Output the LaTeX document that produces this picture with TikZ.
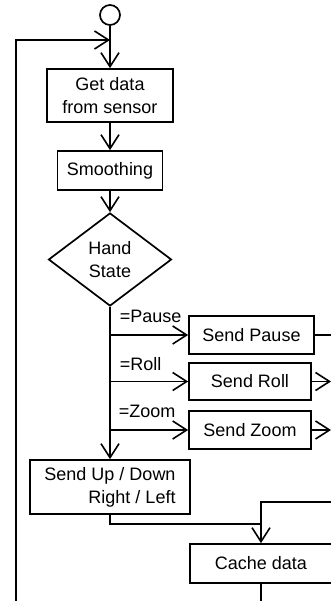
\documentclass[tikz,border=0pt]{standalone}
\usepackage{fontspec}
\setmainfont{Liberation Sans}
\usetikzlibrary{arrows.meta,shapes.geometric}
\begin{document}
\begin{tikzpicture}[x=1pt,y=-1pt,line width=1.7pt,
  txt/.style={font=\fontsize{18}{23}\selectfont},
  box/.style={draw,rectangle,inner sep=0pt,txt,align=center},
  flow/.style={-{Straight Barb[length=14pt,width=18pt,line width=1.6pt]}},
  lbl/.style={txt,anchor=west,inner sep=0pt}]
\useasboundingbox (0,0) rectangle (331,601);
\clip (0,0) rectangle (331,601);

% process steps
\node[circle,draw,minimum size=20pt,inner sep=0pt] (start) at (110,15) {};
\node[box,minimum width=126pt,minimum height=53pt] (get) at (110,95.5) {Get data\\from sensor};
\node[box,minimum width=105pt,minimum height=39pt] (smooth) at (110,170.5) {Smoothing};
\node[diamond,draw,inner sep=0pt,aspect=1.32,minimum width=123pt,minimum height=93pt,txt,align=center] (hand) at (110,259.5) {Hand\\State};
\node[box,minimum width=125pt,minimum height=38pt] (pause) at (251.5,335) {Send Pause};
\node[box,minimum width=122pt,minimum height=37pt] (roll) at (250,381.5) {Send Roll};
\node[box,minimum width=122pt,minimum height=38pt] (zoom) at (250,430) {Send Zoom};
\node[box,minimum width=160pt,minimum height=54pt,align=right] (updown) at (110,487) {Send Up / Down\\Right / Left};
\node[box,minimum width=142pt,minimum height=39pt] (cache) at (261,563.5) {Cache data};

% branch labels
\node[lbl] (lpause) at (119,316) {=Pause};
\node[lbl] (lroll) at (119,364) {=Roll};
\node[lbl] (lzoom) at (118,411) {=Zoom};

% helper points
\coordinate (loopin) at (110,40);
\coordinate (loopbot) at (16,610);
\coordinate (edge) at (331,0);
\coordinate (join) at (261,524);
\coordinate (rin) at (340,502);
\coordinate (cachebot) at (261,610);

% connectors
\draw[flow] (loopbot) |- (loopin);
\draw[flow] (start) -- (get);
\draw[flow] (get) -- (smooth);
\draw[flow] (smooth) -- (hand);
\draw[flow] (hand.south) -- (hand.south |- updown.north);
\draw[flow] (hand.south |- pause.west) -- (pause.west);
\draw[flow] (hand.south |- roll.west) -- (roll.west);
\draw[flow] (hand.south |- zoom.west) -- (zoom.west);
\draw (pause.east) -- (pause.east -| edge);
\draw[flow] (roll.east) -- (roll.east -| edge);
\draw[flow] (zoom.east) -- (zoom.east -| edge);
\draw (updown.south) |- (join);
\draw[flow] (rin) -| (cache.north);
\draw (cache.south) -- (cachebot);
\end{tikzpicture}
\end{document}
